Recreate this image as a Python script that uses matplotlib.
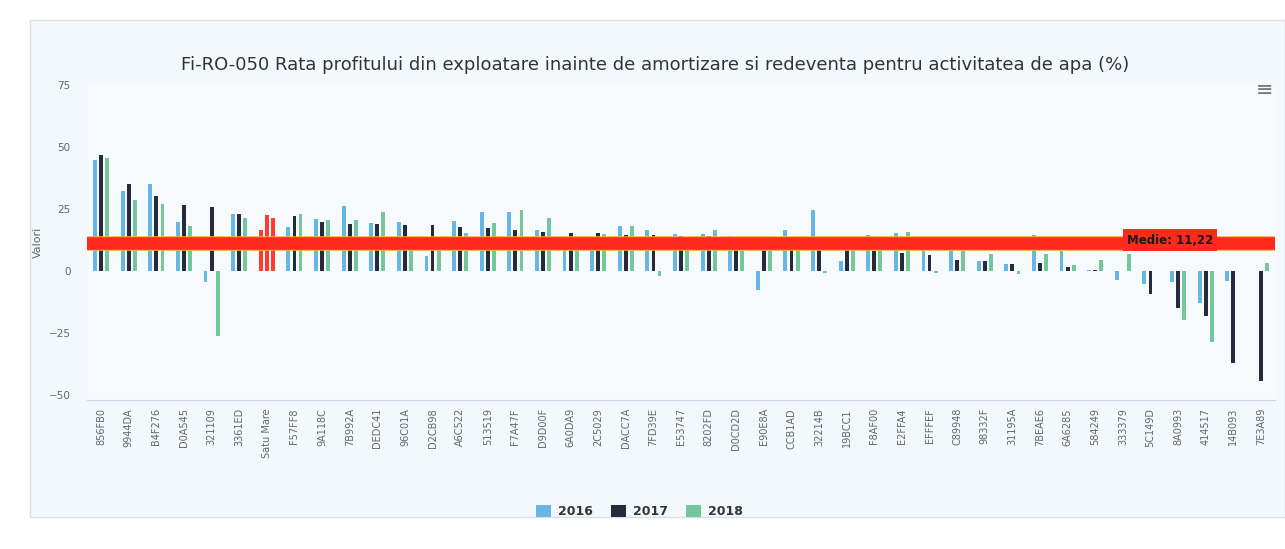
import matplotlib.pyplot as plt
import matplotlib.patches as patches
import matplotlib.transforms as transforms
import numpy as np

# operators, sorted by the 2017 value (Satu Mare highlighted)
categories = ["856FB0", "9944DA", "B4F276", "D0A545", "321109", "3361ED", "Satu Mare",
              "F57FF8", "9A118C", "7B992A", "DEDC41", "96C01A", "D2CB98", "A6C522",
              "513519", "F7A47F", "D9D00F", "6A0DA9", "2C5029", "DACC7A", "7FD39E",
              "E53747", "8202FD", "D0CD2D", "E90E8A", "CCB1AD", "32214B", "19BCC1",
              "F8AF00", "E2FFA4", "EFFFEF", "C89948", "98332F", "31195A", "7BEAE6",
              "6A6285", "584249", "333379", "5C149D", "8A0993", "414517", "14B093",
              "7E3A89"]

v2016 = [44.7, 32.4, 35, 19.8, -4.3, 23, 16.7, 17.8, 21, 26, 19.3, 19.8, 6, 20,
         23.7, 23.8, 16.3, 10, 11, 18, 16.7, 14.7, 15, 14, -7.6, 16.7, 24.4, 4,
         14.3, 15.4, 9, 9.5, 4, 2.7, 14.3, 8, 0.5, -3.5, -5.5, -4.4, -13, -4, 0]
v2017 = [46.7, 35, 30.4, 26.6, 25.8, 23, 22.7, 22, 19.7, 19, 18.9, 18.5, 18.5, 17.7,
         17.4, 16.5, 15.7, 15.3, 15.2, 14.3, 14.3, 14, 13.9, 13.8, 13.6, 12.5, 11.8, 8.4,
         7.9, 7.4, 6.3, 4.4, 4, 2.7, 3, 1.6, 0.5, 0, -9.2, -15, -18.2, -37, -44.6]
v2018 = [45.4, 28.6, 27, 18.2, -26.4, 21.3, 21.3, 23, 20.6, 20.6, 23.6, 13.1, 8.7, 15.3,
         19.4, 24.5, 21.2, 9, 14.7, 18.3, -2, 9, 16.6, 10, 9, 9, -1, 8.7,
         9, 15.8, -1, 8.4, 6.7, -1.3, 7, 2.3, 4.4, 7, 0, -19.8, -28.9, 0, 3.3]

years = ["2016", "2017", "2018"]
series = [v2016, v2017, v2018]
colors = ["#68b6e6", "#262a3b", "#74c79a"]
highlight = "Satu Mare"
highlight_color = "#ff3b30"
median = 11.22

fig = plt.figure(figsize=(12.85, 5.49), dpi=100)
fig.patch.set_facecolor("white")

# chart container
fig.patches.append(patches.Rectangle((30 / 1285, 1 - 517 / 549), 1 - 30 / 1285, 497 / 549,
                                     transform=fig.transFigure, facecolor="#f3f8fc",
                                     edgecolor="#d6e0ea", lw=1, zorder=-10))

ax = fig.add_axes([0.068, 0.272, 0.924, 0.573])
ax.set_facecolor("#f7fafd")

x = np.arange(len(categories))
width = 0.14
offsets = [-0.22, 0, 0.22]
for vals, col, off, year in zip(series, colors, offsets, years):
    bar_colors = [highlight_color if c == highlight else col for c in categories]
    ax.bar(x + off, vals, width=width, color=bar_colors, label=year, zorder=2)

# median plot line
ax.axhline(median, color="#f6a93b", lw=10.5, zorder=3)
ax.axhline(median, color="#ff2a1c", lw=9, zorder=4)
trans = transforms.blended_transform_factory(ax.transAxes, ax.transData)
ax.text(0.948, median + 1.2, "Medie: " + str(median).replace(".", ","), transform=trans,
        ha="right", va="center", fontsize=8.5, fontweight="bold", color="#1a1a1a", zorder=5,
        bbox=dict(boxstyle="square,pad=0.35", facecolor="#ff2a1c", edgecolor="none"))

ax.set_xlim(-0.5, len(categories) - 0.5)
ax.set_ylim(-52, 75)
ax.set_yticks([-50, -25, 0, 25, 50, 75])
ax.set_xticks(x)
ax.set_xticklabels(categories, rotation=90, fontsize=7, color="#666666")
ax.tick_params(axis="y", labelsize=7.5, colors="#666666", length=0, pad=12)
ax.tick_params(axis="x", length=0, pad=6)
for s in ["top", "right", "left"]:
    ax.spines[s].set_visible(False)
ax.spines["bottom"].set_color("#ccd6eb")
ax.set_ylabel("Valori", fontsize=8, color="#666666", labelpad=4)

fig.text(0.51, 0.882, "Fi-RO-050 Rata profitului din exploatare inainte de amortizare si "
         "redeventa pentru activitatea de apa (%)", ha="center", va="center",
         fontsize=13, color="#333333")
fig.text(0.984, 0.836, "\u2261", ha="center", va="center", fontsize=15, color="#777777")

ax.legend(loc="upper center", bbox_to_anchor=(0.465, -0.3), ncol=3, frameon=False,
          prop={"weight": "bold", "size": 9}, handlelength=1.2, handleheight=1.0,
          columnspacing=1.4, handletextpad=0.6, labelcolor="#333333")

fig.savefig("out.png", dpi=100, facecolor=fig.get_facecolor())
